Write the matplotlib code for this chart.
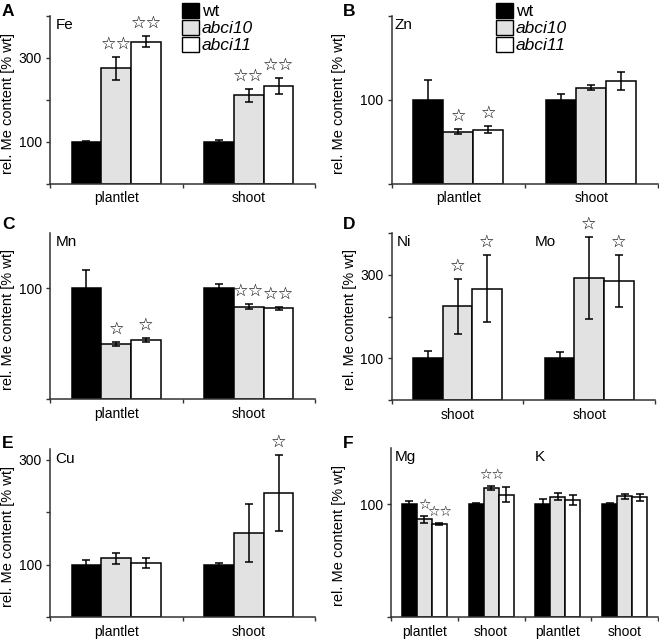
import numpy as np
import matplotlib
matplotlib.use('Agg')
import matplotlib.pyplot as plt
from matplotlib.patches import Patch

plt.rcParams['font.family'] = ['Liberation Sans', 'DejaVu Sans']

# -----------------------------
# data
# -----------------------------
genotypes = ['wt', 'abci10', 'abci11']

fe_groups = ['plantlet', 'shoot']
fe_means = [[100, 100], [275, 210], [338, 233]]
fe_errs = [[2, 4], [27, 15], [13, 19]]
fe_stars = [['', ''], ['☆☆', '☆☆'], ['☆☆', '☆☆']]

zn_groups = ['plantlet', 'shoot']
zn_means = [[100, 100], [62, 114], [64.5, 122]]
zn_errs = [[23, 7], [3, 3], [4.5, 11]]
zn_stars = [['', ''], ['☆', ''], ['☆', '']]

mn_groups = ['plantlet', 'shoot']
mn_means = [[100, 100], [49.7, 83.5], [53.3, 82]]
mn_errs = [[16, 3.6], [1.5, 2.5], [2, 1.5]]
mn_stars = [['', ''], ['☆', '☆☆'], ['☆', '☆☆']]

nimo_groups = ['shoot', 'shoot']
nimo_means = [[100, 100], [224, 292], [266, 285]]
nimo_errs = [[17, 15], [65, 98], [80, 62]]
nimo_stars = [['', ''], ['☆', '☆'], ['☆', '☆']]

cu_groups = ['plantlet', 'shoot']
cu_means = [[100, 100], [112, 161], [103.5, 236]]
cu_errs = [[8.6, 4], [11, 55], [10, 72]]
cu_stars = [['', ''], ['', ''], ['', '☆']]

mgk_groups = ['plantlet', 'shoot', 'plantlet', 'shoot']
mgk_means = [[100, 100, 100, 100], [86.8, 114, 106.5, 107], [82.6, 108.5, 103.5, 106]]
mgk_errs = [[2.5, 1.5, 5, 1.5], [3, 1.8, 3, 2], [1, 6.5, 4.5, 3]]
mgk_stars = [['', '', '', ''], ['☆', '☆☆', '', ''], ['☆☆', '', '', '']]

# -----------------------------
# style
# -----------------------------
W, H = 659, 640
bar_colors = ['black', '#e2e2e2', 'white']
axis_col = '#333333'
bw = 0.225


def px_rect(l, r, t, b):
    return [l / W, 1 - b / H, (r - l) / W, (b - t) / H]


def panel(rect, groups, means, errs, stars, ylim, yticks, ylabels, elems,
          lab_off=34.5, star_size=12.5):
    ax = fig.add_axes(px_rect(*rect))
    n = len(groups)
    x = np.arange(n) + 0.5
    for i in range(3):
        xi = x + (i - 1) * bw
        ax.bar(xi, means[i], bw, color=bar_colors[i], edgecolor='black',
               linewidth=1.1, zorder=2)
        ax.errorbar(xi, means[i], yerr=errs[i], fmt='none', ecolor='black',
                    elinewidth=1.1, capsize=2.7, capthick=1.1, zorder=3)
        for j in range(n):
            if stars[i][j]:
                ax.annotate(stars[i][j], (xi[j], means[i][j] + errs[i][j]),
                            xytext=(0, 3), textcoords='offset points',
                            ha='center', va='bottom', fontsize=star_size,
                            family=['DejaVu Sans'], annotation_clip=False)
    ax.set_xlim(0, n)
    ax.set_ylim(*ylim)
    ax.set_xticks(np.arange(n + 1))
    ax.set_xticklabels([])
    ax.set_xticks(x, minor=True)
    ax.set_xticklabels(groups, minor=True, fontsize=10)
    ax.tick_params(axis='x', which='minor', length=0, pad=5.5)
    ax.tick_params(axis='x', which='major', length=3, width=1, color=axis_col)
    ax.set_yticks(yticks)
    ax.set_yticklabels(ylabels, fontsize=10)
    ax.tick_params(axis='y', length=3, width=1, pad=3, color=axis_col)
    for s in ['top', 'right']:
        ax.spines[s].set_visible(False)
    for s in ['left', 'bottom']:
        ax.spines[s].set_color(axis_col)
        ax.spines[s].set_linewidth(1.1)
    ax.set_ylabel('rel. Me content [% wt]', fontsize=10.5)
    ax.yaxis.set_label_coords(-lab_off / (rect[1] - rect[0]), 0.48)
    for name, ex in elems:
        ax.text(ex, 0.985, name, transform=ax.transAxes, ha='left', va='top',
                fontsize=11)
    return ax


fig = plt.figure(figsize=(W / 100, H / 100), dpi=100)

axA = panel((50, 315, 15.7, 183.7), fe_groups, fe_means, fe_errs, fe_stars,
            (0, 400), [0, 100, 200, 300, 400], ['', '100', '', '300', ''],
            [('Fe', 0.02)])
axB = panel((391.7, 658, 15.7, 183.7), zn_groups, zn_means, zn_errs, zn_stars,
            (0, 200), [0, 100, 200], ['', '100', ''], [('Zn', 0.012)],
            lab_off=45.5)
axC = panel((50, 315, 232.7, 399.3), mn_groups, mn_means, mn_errs, mn_stars,
            (0, 150), [0, 100], ['', '100'], [('Mn', 0.02)])
axD = panel((391.7, 655, 232.7, 400.3), nimo_groups, nimo_means, nimo_errs,
            nimo_stars, (0, 400), [0, 100, 200, 300, 400],
            ['', '100', '', '300', ''], [('Ni', 0.02), ('Mo', 0.545)])
axE = panel((50, 315, 449, 617.3), cu_groups, cu_means, cu_errs, cu_stars,
            (0, 320), [0, 100, 200, 300], ['', '100', '', '300'],
            [('Cu', 0.02)])
axF = panel((391, 658, 447.7, 617.3), mgk_groups, mgk_means, mgk_errs,
            mgk_stars, (0, 150), [0, 100], ['', '100'],
            [('Mg', 0.015), ('K', 0.54)], lab_off=45, star_size=10)

# legends
handles = [Patch(facecolor=c, edgecolor='black', linewidth=1.0)
           for c in bar_colors]
for lx in (181.7, 495.7):
    leg = fig.legend(handles, genotypes, loc='upper left',
                     bbox_to_anchor=(lx / W, 1 - 3 / H), frameon=False,
                     fontsize=12.5, borderpad=0, borderaxespad=0,
                     handlelength=1.0, handleheight=0.95, handletextpad=0.15,
                     labelspacing=0.02)
    for t in leg.get_texts()[1:]:
        t.set_style('italic')

# panel letters
for letter, lx, ly in [('A', 2, 4), ('B', 343, 4), ('C', 2, 217),
                       ('D', 343, 217), ('E', 2, 436), ('F', 343, 436)]:
    fig.text(lx / W, 1 - ly / H, letter, fontsize=12.5, fontweight='bold',
             ha='left', va='top')

plt.savefig('out.png', dpi=100)
